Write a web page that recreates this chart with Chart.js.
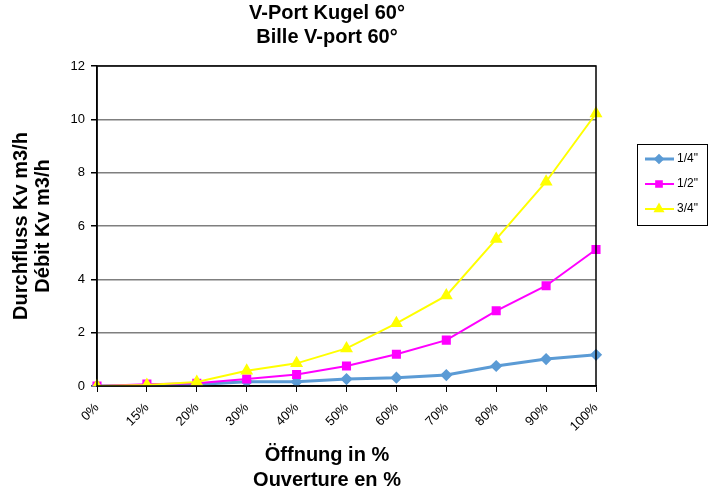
<!DOCTYPE html>
<html>
<head>
<meta charset="utf-8">
<script src="https://cdn.jsdelivr.net/npm/chart.js@4.4.0/dist/chart.umd.min.js"></script>
<style>
  html, body { margin: 0; padding: 0; background: #fff; }
  #wrap { width: 723px; height: 494px; }
</style>
</head>
<body>
<div id="wrap"><canvas id="chart" width="723" height="494"></canvas></div>
<script>
const openings = ["0%", "15%", "20%", "30%", "40%", "50%", "60%", "70%", "80%", "90%", "100%"];
const kvQuarter = [0, 0.02, 0.06, 0.16, 0.16, 0.26, 0.31, 0.41, 0.75, 1.01, 1.17];
const kvHalf = [0, 0.07, 0.1, 0.26, 0.43, 0.75, 1.19, 1.72, 2.82, 3.76, 5.12];
const kvThreeQuarter = [0, 0.04, 0.15, 0.57, 0.85, 1.41, 2.35, 3.39, 5.51, 7.66, 10.22];
const yTicks = [0, 2, 4, 6, 8, 10, 12];
const chartTitle = ["V-Port Kugel 60°", "Bille V-port 60°"];
const xTitle = ["Öffnung in %", "Ouverture en %"];
const yTitle = ["Durchfluss Kv m3/h", "Débit Kv m3/h"];

const FONT = "Arial, 'Liberation Sans', sans-serif";

// frame round the plot area, titles (Excel puts them off-centre) and boxed legend
const framePlugin = {
  id: "frame",
  afterDraw(chart) {
    const { ctx, chartArea: a } = chart;
    ctx.save();
    ctx.strokeStyle = "#000";
    ctx.lineWidth = 1.5;
    ctx.strokeRect(a.left, a.top, a.right - a.left, a.bottom - a.top);

    ctx.fillStyle = "#000";
    ctx.textAlign = "center";
    ctx.textBaseline = "middle";
    ctx.font = "bold 20px " + FONT;
    const cx = a.left + 230;
    ctx.fillText(chartTitle[0], cx, 13);
    ctx.fillText(chartTitle[1], cx, 37);
    ctx.fillText(xTitle[0], cx, a.bottom + 69);
    ctx.fillText(xTitle[1], cx, a.bottom + 94);

    const lx = a.right + 41, ly = a.top + 78, lw = 70, lh = 81;
    ctx.textAlign = "left";
    ctx.lineWidth = 1;
    ctx.strokeRect(lx + 0.5, ly + 0.5, lw, lh);
    ctx.font = "12px " + FONT;
    chart.data.datasets.forEach((ds, i) => {
      const y = ly + 15 + i * 25;
      ctx.strokeStyle = ds.borderColor;
      ctx.lineWidth = ds.borderWidth;
      ctx.beginPath();
      ctx.moveTo(lx + 8, y);
      ctx.lineTo(lx + 37, y);
      ctx.stroke();
      ctx.fillStyle = ds.pointBackgroundColor;
      ctx.strokeStyle = ds.pointBackgroundColor;
      Chart.helpers.drawPoint(ctx, {
        pointStyle: ds.pointStyle, radius: ds.pointRadius * 0.8, borderWidth: 1
      }, lx + 22, y);
      ctx.fillStyle = "#000";
      ctx.fillText(ds.label, lx + 40, y);
    });
    ctx.restore();
  }
};

new Chart(document.getElementById("chart"), {
  type: "line",
  data: {
    labels: openings,
    datasets: [
      {
        label: '1/4"', data: kvQuarter, order: 3,
        borderColor: "#5b9bd5", backgroundColor: "#5b9bd5",
        pointBackgroundColor: "#5b9bd5", pointBorderColor: "#5b9bd5",
        borderWidth: 3, pointStyle: "rectRot", pointRadius: 4, tension: 0
      },
      {
        label: '1/2"', data: kvHalf, order: 2,
        borderColor: "#ff00ff", backgroundColor: "#ff00ff",
        pointBackgroundColor: "#ff00ff", pointBorderColor: "#ff00ff",
        borderWidth: 2, pointStyle: "rect", pointRadius: 5, tension: 0
      },
      {
        label: '3/4"', data: kvThreeQuarter, order: 1,
        borderColor: "#ffff00", backgroundColor: "#ffff00",
        pointBackgroundColor: "#ffff00", pointBorderColor: "#ffff00",
        borderWidth: 2, pointStyle: "triangle", pointRadius: 5.5, tension: 0
      }
    ]
  },
  options: {
    responsive: false,
    animation: false,
    devicePixelRatio: 1,
    layout: { padding: { left: 10, right: 127, top: 66, bottom: 4 } },
    plugins: {
      legend: { display: false },
      tooltip: { enabled: false },
      title: { display: false }
    },
    scales: {
      x: {
        offset: false,
        grid: { drawOnChartArea: false, drawTicks: true, tickLength: 6, tickColor: "#000", color: "#000" },
        border: { color: "#000", width: 1.5 },
        ticks: { color: "#000", font: { family: FONT, size: 13 }, maxRotation: 45, minRotation: 45, padding: 8 },
        afterFit(scale) { scale.height = 494 - 386 - 4; }
      },
      y: {
        min: 0, max: 12,
        afterBuildTicks(scale) { scale.ticks = yTicks.map(v => ({ value: v })); },
        grid: { color: "#7f7f7f", lineWidth: 1.5, tickLength: 6, tickColor: "#000" },
        border: { color: "#000", width: 1.5 },
        ticks: { color: "#000", font: { family: FONT, size: 13 }, padding: 6 },
        title: {
          display: true,
          text: yTitle,
          color: "#000",
          font: { family: FONT, size: 20, weight: "bold", lineHeight: 1.1 },
          padding: { top: 0, bottom: 8 }
        },
        afterFit(scale) { scale.width = 97 - 10; }
      }
    }
  },
  plugins: [framePlugin]
});
</script>
</body>
</html>
